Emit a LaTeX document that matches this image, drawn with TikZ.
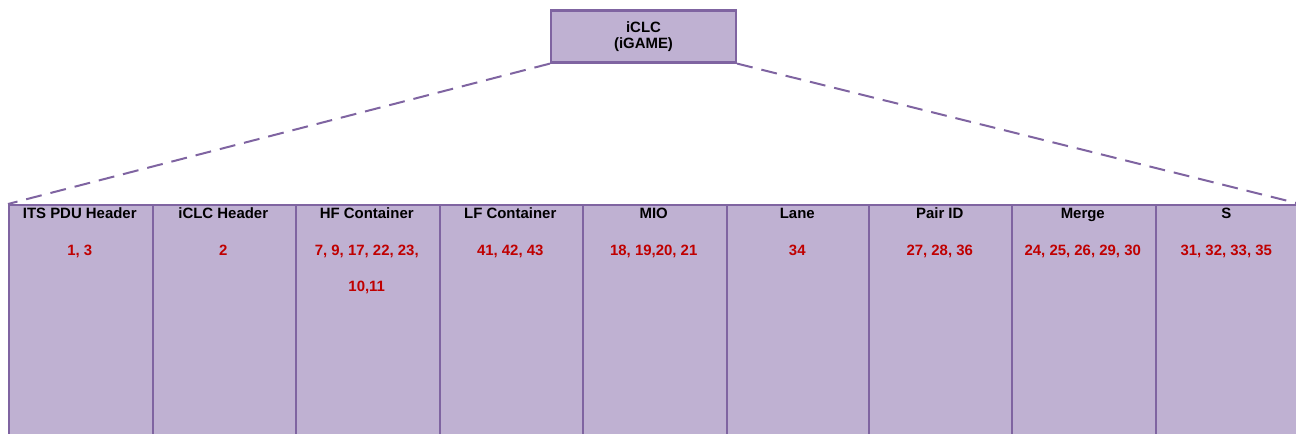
\documentclass[tikz,border=0pt]{standalone}
\usepackage{fontspec}
\setmainfont{Liberation Sans}
\definecolor{boxfill}{HTML}{BFB1D2}
\definecolor{boxline}{HTML}{7F64A1}
\definecolor{numred}{HTML}{C00000}
\tikzset{
  field/.style={draw=boxline, fill=boxfill, line width=2.2bp, minimum width=143.5bp,
    minimum height=236bp, inner sep=0pt, anchor=north west},
  head/.style={font=\fontsize{15}{18}\selectfont\bfseries, text=black, anchor=base, inner sep=0pt},
  nums/.style={font=\fontsize{15}{18}\selectfont\bfseries, text=numred, anchor=base, inner sep=0pt},
  link/.style={draw=boxline, line width=2bp, dash pattern=on 16bp off 9bp}
}
\begin{document}
\begin{tikzpicture}[x=1bp,y=-1bp]
\useasboundingbox (0,0) rectangle (1296,434);
\begin{scope}
\clip (0,0) rectangle (1296,434);
% top message box
\node[draw=boxline, fill=boxfill, line width=2.2bp, minimum width=185bp, minimum height=52bp,
  inner sep=0pt, align=center, font=\fontsize{15}{16.6}\selectfont\bfseries] (iclc) at (643.5,36.5)
  {iCLC\\(iGAME)};
% container fields
\foreach \n/\x/\h in {f1/8/ITS PDU Header, f2/151.5/iCLC Header, f3/295/HF Container,
  f4/438.5/LF Container, f5/582/MIO, f6/725.5/Lane, f7/868/Pair ID, f8/1011/Merge, f9/1154.5/S}
  {\node[field] (\n) at (\x,204) {};
   \node[head] (\n-h) at (\x+71.75,219) {\h};}
\node[nums] (f1-n) at (f1-h |- 0,255.5) {1, 3};
\node[nums] (f2-n) at (f2-h |- 0,255.5) {2};
\node[nums] (f3-n) at (f3-h |- 0,255.5) {7, 9, 17, 22, 23,};
\node[nums] (f3-m) at (f3-h |- 0,291.5) {10,11};
\node[nums] (f4-n) at (f4-h |- 0,255.5) {41, 42, 43};
\node[nums] (f5-n) at (f5-h |- 0,255.5) {18, 19,20, 21};
\node[nums] (f6-n) at (f6-h |- 0,255.5) {34};
\node[nums] (f7-n) at (f7-h |- 0,255.5) {27, 28, 36};
\node[nums] (f8-n) at (f8-h |- 0,255.5) {24, 25, 26, 29, 30};
\node[nums] (f9-n) at (f9-h |- 0,255.5) {31, 32, 33, 35};
% expansion lines
\draw[link] (iclc.south west) -- (f1.north west);
\draw[link] (iclc.south east) -- (f9.north east);
\end{scope}
\end{tikzpicture}
\end{document}
